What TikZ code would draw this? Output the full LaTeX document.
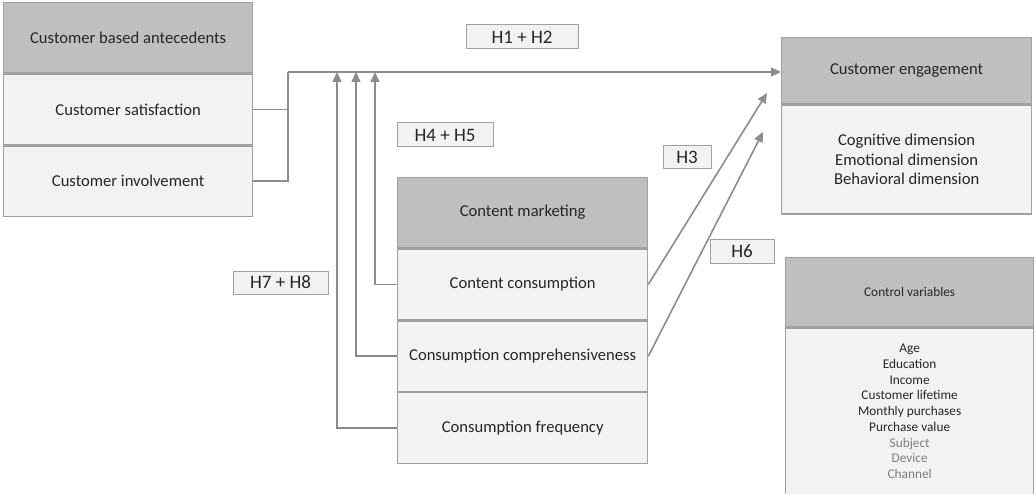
\documentclass[tikz,border=0pt]{standalone}
\usepackage{fontspec}
\setmainfont{Carlito}
\usetikzlibrary{arrows.meta}
\definecolor{hdr}{HTML}{BFBFBF}
\definecolor{bodyfill}{HTML}{F2F2F2}
\definecolor{edge}{HTML}{A0A0A0}
\definecolor{wire}{HTML}{8C8C8C}
\definecolor{ink}{HTML}{262626}
\definecolor{faint}{HTML}{7F7F7F}

\begin{document}
\begin{tikzpicture}[x=1pt,y=-1pt,
  cell/.style={draw=edge,line width=1.3pt,inner sep=0pt,text=ink,align=center,
    anchor=north west,font=\fontsize{16.6}{19.5}\selectfont},
  headcell/.style={cell,fill=hdr},
  bodycell/.style={cell,fill=bodyfill},
  tag/.style={draw=edge,fill=bodyfill,line width=1pt,inner sep=0pt,text=ink,
    font=\fontsize{19}{22}\selectfont},
  link/.style={draw=wire,line width=1.6pt},
  arrowlink/.style={link,-{Triangle[length=10pt,width=9pt]}}
]
\useasboundingbox (0,0) rectangle (1035,494);

% customer based antecedents
\node[headcell,minimum width=249pt,minimum height=70pt] (cba) at (3,2) {Customer based antecedents};
\node[bodycell,minimum width=249pt,minimum height=71pt] (sat) at (cba.south west) {Customer satisfaction};
\node[bodycell,minimum width=249pt,minimum height=70pt] (inv) at (sat.south west) {Customer involvement};

% content marketing
\node[headcell,minimum width=250pt,minimum height=70pt] (cm) at (397,177) {Content marketing};
\node[bodycell,minimum width=250pt,minimum height=71pt] (cc) at (cm.south west) {Content consumption};
\node[bodycell,minimum width=250pt,minimum height=70pt] (ccomp) at (cc.south west) {Consumption comprehensiveness};
\node[bodycell,minimum width=250pt,minimum height=71pt] (cfreq) at (ccomp.south west) {Consumption frequency};

% customer engagement
\node[headcell,minimum width=250pt,minimum height=66pt] (ce) at (781,37) {Customer engagement};
\node[bodycell,minimum width=250pt,minimum height=109pt] (dims) at (ce.south west)
  {Cognitive dimension\\Emotional dimension\\Behavioral dimension};

% control variables
\node[headcell,minimum width=248pt,minimum height=69pt,font=\fontsize{13.3}{15}\selectfont] (cv) at (785,257) {Control variables};
\node[bodycell,minimum width=248pt,minimum height=167pt,font=\fontsize{13.3}{15.75}\selectfont] (cvl) at (cv.south west)
  {Age\\Education\\Income\\Customer lifetime\\Monthly purchases\\Purchase value\\
   \textcolor{faint}{Subject}\\\textcolor{faint}{Device}\\\textcolor{faint}{Channel}};

% hypothesis labels
\node[tag,minimum width=112pt,minimum height=24pt] (h12) at (522,37) {H1 + H2};
\node[tag,minimum width=96pt,minimum height=24pt] (h45) at (445,135) {H4 + H5};
\node[tag,minimum width=48pt,minimum height=23pt] (h3) at (687,157.5) {H3};
\node[tag,minimum width=64pt,minimum height=23pt] (h6) at (742,251.5) {H6};
\node[tag,minimum width=95pt,minimum height=23pt] (h78) at (280.5,282.5) {H7 + H8};

% connector end points
\coordinate (join) at (288,72);
\coordinate (m1) at (375,72);
\coordinate (m2) at (356,72);
\coordinate (m3) at (337,72);
\coordinate (d1) at (767,93);
\coordinate (d2) at (763,132);

% main path
\draw[link] (sat.east) -| (join);
\draw[link] (inv.east) -| (join);
\draw[arrowlink] (join) -- (join -| ce.west);

% moderators
\draw[arrowlink] (cc.west) -| (m1);
\draw[arrowlink] (ccomp.west) -| (m2);
\draw[arrowlink] (cfreq.west) -| (m3);

% direct effects
\draw[arrowlink] (cc.east) -- (d1);
\draw[arrowlink] (ccomp.east) -- (d2);
\end{tikzpicture}
\end{document}
